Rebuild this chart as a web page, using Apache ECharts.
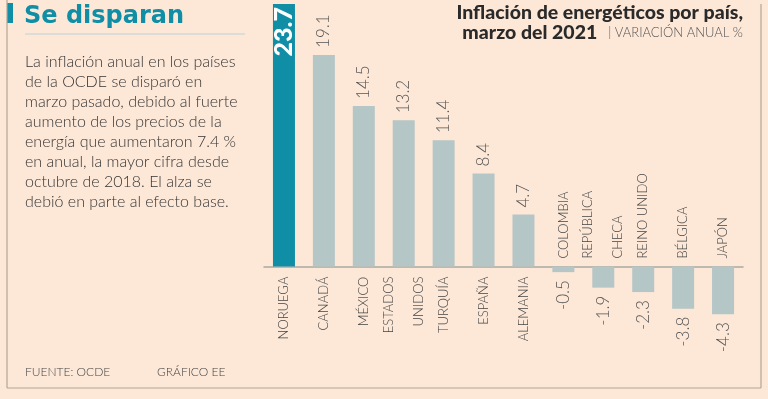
<!DOCTYPE html>
<html><head><meta charset="utf-8">
<script src="https://cdn.jsdelivr.net/npm/echarts@6/dist/echarts.min.js"></script>
<style>html,body{margin:0;padding:0;background:#fde8d8;}#c{width:768px;height:399px;}</style>
</head><body><div id="c"></div>
<script>
var categories = ['NORUEGA','CANADÁ','MÉXICO','ESTADOS\nUNIDOS','TURQUÍA','ESPAÑA','ALEMANIA','COLOMBIA','REPÚBLICA\nCHECA','REINO UNIDO','BÉLGICA','JAPÓN'];
var values = [23.7, 19.1, 14.5, 13.2, 11.4, 8.4, 4.7, -0.5, -1.9, -2.3, -3.8, -4.3];
var highlightIndex = 0;

var TEAL = '#0f8ea6', GREY = '#b5c6c6', BG = '#fde8d8', FONT = 'Lato, "Open Sans", sans-serif';

var chart = echarts.init(document.getElementById('c'), null, {renderer:'canvas'});
var data = values.map(function (v, i) {
  var item = {value: v, itemStyle: {color: i === highlightIndex ? TEAL : GREY}};
  if (i === highlightIndex) {
    item.label = {show: true, position: 'insideTop', rotate: 90, align: 'right', verticalAlign: 'middle',
      distance: 3, color: '#fff', fontWeight: 900, fontSize: 25, fontFamily: FONT};
  } else if (v >= 0) {
    item.label = {show: true, position: 'top', rotate: 90, align: 'left', verticalAlign: 'middle',
      distance: 7, color: '#555', fontWeight: 300, fontSize: 17, fontFamily: FONT};
  } else {
    item.label = {show: true, position: 'bottom', rotate: 90, align: 'right', verticalAlign: 'middle',
      distance: 8, color: '#555', fontWeight: 300, fontSize: 17, fontFamily: FONT};
  }
  return item;
});
// category names carried by a transparent overlay series, anchored at the zero line
var nameData = values.map(function (v, i) {
  return {value: v, label: v >= 0
    ? {position: 'bottom', align: 'right', distance: 10}
    : {position: 'top', align: 'left', distance: 8}};
});

chart.setOption({
  backgroundColor: BG,
  animation: false,
  title: [
    {text: 'Se disparan', left: 24, top: 5, padding: 0,
     textStyle: {color: TEAL, fontSize: 24, fontWeight: 'bold', fontFamily: '"DejaVu Sans", sans-serif'}},
    {text: '{b|Inflación de energéticos por país,}\n{b|marzo del 2021} {s|| VARIACIÓN ANUAL %}',
     right: 25, top: 3, padding: 0,
     textStyle: {rich: {
       b: {fontSize: 19.5, fontWeight: 900, color: '#2a2a2a', fontFamily: FONT, lineHeight: 20, align: 'right'},
       s: {fontSize: 13, fontWeight: 300, color: '#555', fontFamily: FONT, lineHeight: 20, align: 'right'}
     }}}
  ],
  grid: {left: 264, right: 25, top: 4, bottom: 77, containLabel: false, outerBoundsMode: 'none'},
  xAxis: {type: 'category', data: categories,
     axisLine: {onZero: true, lineStyle: {color: '#a9a9a1', width: 1.5}},
     axisTick: {show: false}, axisLabel: {show: false}},
  yAxis: {type: 'value', min: -5, max: 23.7, show: false, splitLine: {show: false}},
  series: [
    {type: 'bar', data: data, barWidth: 22},
    {type: 'bar', data: nameData, barWidth: 22, barGap: '-100%', silent: true,
     itemStyle: {color: 'rgba(0,0,0,0)'},
     label: {show: true, rotate: 90, verticalAlign: 'middle', fontSize: 13, fontWeight: 300,
       color: '#444', fontFamily: FONT, lineHeight: 30,
       formatter: function (p) { return categories[p.dataIndex]; }}}
  ],
  graphic: [
    {type: 'rect', shape: {x: 7, y: 3, width: 6, height: 20}, style: {fill: TEAL}},
    {type: 'line', shape: {x1: 25, y1: 34, x2: 245, y2: 34}, style: {stroke: '#bcd2d6', lineWidth: 1}},
    {type: 'line', shape: {x1: 7, y1: 0, x2: 7, y2: 388}, style: {stroke: '#b3a596', lineWidth: 1.2}},
    {type: 'line', shape: {x1: 7, y1: 388, x2: 761, y2: 388}, style: {stroke: '#b3a596', lineWidth: 1.2}},
    {type: 'line', shape: {x1: 761, y1: 4, x2: 761, y2: 388}, style: {stroke: '#b3a596', lineWidth: 1.2}},
    {type: 'text', left: 25, top: 52, style: {
      text: 'La inflación anual en los países\nde la OCDE se disparó en\nmarzo pasado, debido al fuerte\naumento de los precios de la\nenergía que aumentaron 7.4 %\nen anual, la mayor cifra desde\noctubre de 2018. El alza se\ndebió en parte al efecto base.',
      font: '300 16px ' + FONT, fill: '#333', lineHeight: 20}},
    {type: 'text', left: 25, top: 366, style: {text: 'FUENTE: OCDE', font: '300 12px ' + FONT, fill: '#444'}},
    {type: 'text', left: 157, top: 366, style: {text: 'GRÁFICO EE', font: '300 12px ' + FONT, fill: '#444'}}
  ]
});
</script></body></html>
